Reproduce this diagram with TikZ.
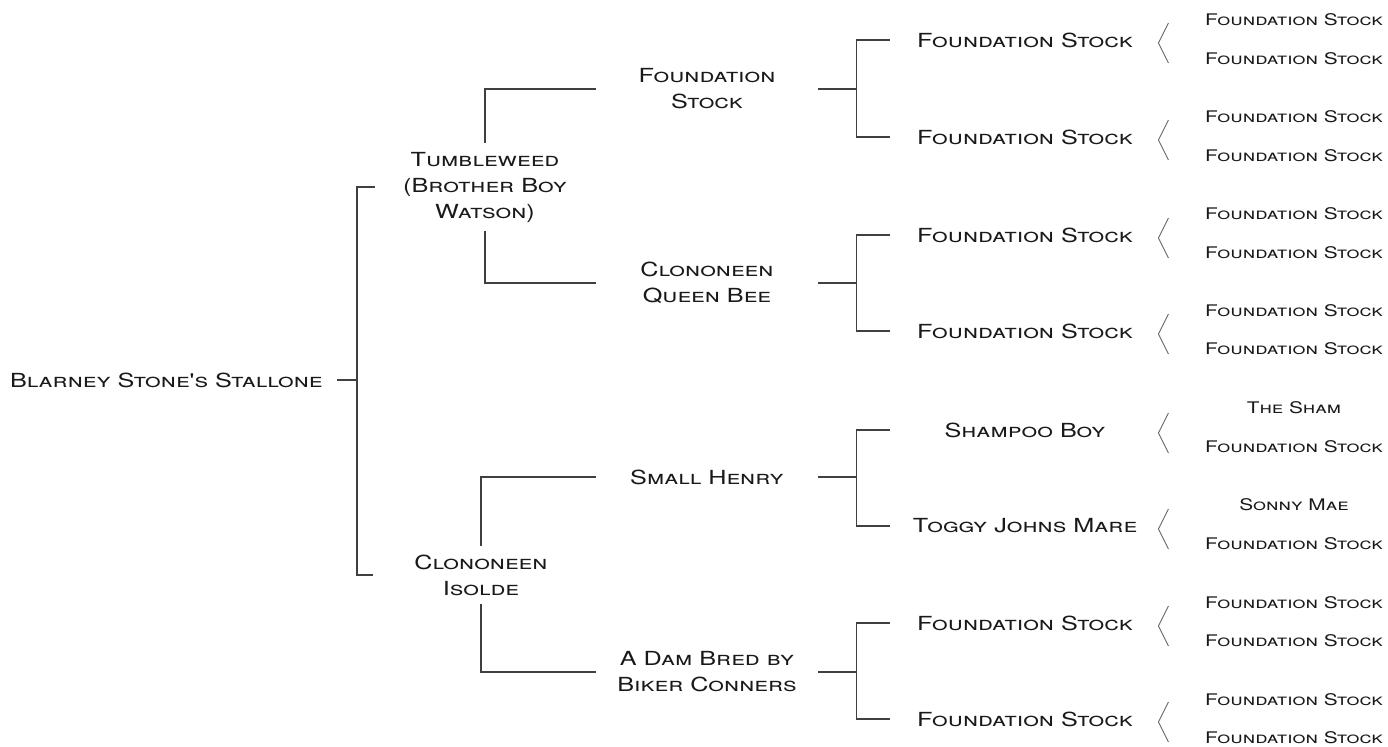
\documentclass[tikz,border=0pt]{standalone}
\usepackage{fontspec}
\newfontfamily\pedfont{TeX Gyre Heros}[FakeStretch=1.3]
\usepackage{xcolor}

\tikzset{
  horse/.style={font=\pedfont\scshape\fontsize{9.7}{13}\selectfont, align=center, text=black!90},
  gen2/.style={horse, minimum width=111pt, inner sep=0pt},
  gen3/.style={horse, minimum width=135pt, inner sep=0pt},
  gen4/.style={font=\pedfont\scshape\fontsize{8}{9}\selectfont, text=black!90},
  link/.style={draw=black!75, line width=0.6pt},
  chevron/.style={draw=black!60, line width=0.45pt}
}

\begin{document}
\begin{tikzpicture}[x=0.5pt,y=-0.5pt]
		\useasboundingbox (0,0) rectangle (1388,746);
		\node[horse,anchor=east,inner sep=0pt] (root) at (323,380) {Blarney Stone's Stallone};
		\node[horse,inner sep=4pt] (tw) at (485,187) {Tumbleweed\\(Brother Boy\\Watson)};
		\node[horse,inner sep=4pt] (ci) at (481,575) {Clononeen\\Isolde};
		\node[gen2] (fa) at (707,89) {Foundation\\Stock};
		\node[gen2] (qb) at (707,283) {Clononeen\\Queen Bee};
		\node[gen2] (sh) at (707,477) {Small Henry};
		\node[gen2] (db) at (707,672) {A Dam Bred by\\Biker Conners};
		\foreach \n/\y/\t in {a/40/Foundation Stock, b/137/Foundation Stock, c/235/Foundation Stock, d/331/Foundation Stock, e/430/Shampoo Boy, f/526/Toggy Johns Mare, g/623/Foundation Stock, h/719/Foundation Stock}
			\node[gen3] (g\n) at (1025,\y) {\t};
		\foreach \y/\t [count=\i] in {20/Foundation Stock, 59/Foundation Stock, 117/Foundation Stock, 156/Foundation Stock, 214/Foundation Stock, 253/Foundation Stock, 311/Foundation Stock, 349/Foundation Stock, 408/The Sham, 447/Foundation Stock, 505/Sonny Mae, 544/Foundation Stock, 603/Foundation Stock, 641/Foundation Stock, 700/Foundation Stock, 738/Foundation Stock}
			\node[gen4] (gg\i) at (1294,\y) {\t};
		\draw[link,shorten <=7pt] (root.east) -- ++(34,0) coordinate (j0);
		\draw[link] (j0 |- tw) ++(18,0) -- (j0 |- tw) -- (j0 |- ci) -- ++(16,0);
		\draw[link] (fa.west) -| (tw.north);
		\draw[link] (qb.west) -| (tw.south);
		\draw[link] (sh.west) -| (ci.north);
		\draw[link] (db.west) -| (ci.south);
		\foreach \p/\u/\l in {fa/a/b, qb/c/d, sh/e/f, db/g/h}
			\draw[link] (g\u.west) -| ([xshift=19pt]\p.east) |- (g\l.west) ([xshift=19pt]\p.east) -- (\p.east);
		\foreach \n in {a,...,h}
			\draw[chevron] (g\n.east) ++(8,-17) -- ++(-10,20) -- ++(10,20);
\end{tikzpicture}
\end{document}
